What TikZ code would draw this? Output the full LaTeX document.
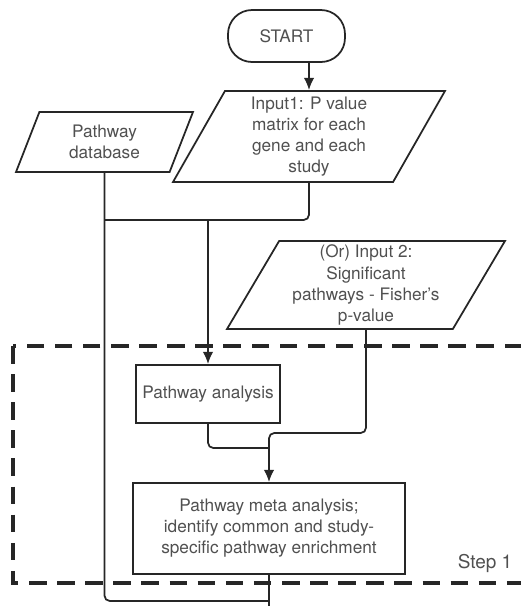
\documentclass[tikz,border=0pt]{standalone}
\usepackage{fontspec}
\setmainfont{TeX Gyre Heros}
\usepackage{xcolor}
\usetikzlibrary{
		arrows.meta,
		shapes.geometric,
		positioning
	}
\definecolor{boxtext}{HTML}{505050}
\definecolor{boxline}{HTML}{262626}
\tikzset{
		>={Latex[length=7pt,width=6pt]},
		every node/.style={text=boxtext, font=\fontsize{9.8}{12}\selectfont},
		startbox/.style={draw=boxline, line width=1pt, rectangle, rounded corners=0.48cm,
			minimum width=2.34cm, minimum height=1.04cm},
		iobox/.style={draw=boxline, line width=1pt, trapezium, trapezium left angle=58,
			trapezium right angle=122, trapezium stretches body, align=center, inner sep=1pt},
		procbox/.style={draw=boxline, line width=1pt, rectangle, align=center},
		link/.style={draw=boxline, line width=1pt, rounded corners=3pt},
		stepframe/.style={draw=boxline, line width=2pt, dash pattern=on 10pt off 6pt}
	}

\begin{document}
\begin{tikzpicture}[x=0.02cm, y=-0.02cm]
        \useasboundingbox (0,0) rectangle (521,606);

        % the dashed frame of step 1
        \draw[stepframe] (13,346) rectangle (522.5,583);
        \node (steplabel) at (485,563) {\fontsize{10.8}{12}\selectfont Step 1};

        % the boxes
        \node[startbox] (start) at (286.5,36) {START};
        \node[iobox, minimum width=5.44cm, minimum height=1.82cm] (input1) at (309,136.5)
            {Input1: P value\\matrix for each\\gene and each\\study};
        \node[iobox, minimum width=3.54cm, minimum height=1.2cm] (db) at (104.5,142)
            {Pathway\\database};
        \node[iobox, minimum width=5.56cm, minimum height=1.76cm] (input2) at (366,285)
            {(Or) Input 2:\\Significant\\pathways - Fisher's\\p-value};
        \node[procbox, minimum width=2.88cm, minimum height=1.16cm] (analysis) at (208,394)
            {Pathway analysis};
        \node[procbox, minimum width=5.44cm, minimum height=1.82cm] (meta) at (269,528.5)
            {Pathway meta analysis;\\identify common and study-\\specific pathway enrichment};

        % points where the lines meet
        \coordinate (join1) at (208,220);
        \coordinate (join2) at (269,433);
        \coordinate (join3) at (269,448);
        \coordinate (exit) at (269,601);
        \coordinate (offpage) at (269,615);

        % draw the lines and arrows
        \draw[link, ->] (input1.north |- start.south) -- (input1.north);
        \draw[link] (input1.south) |- (db.south |- join1);
        \draw[link, ->] (join1) -- (analysis.north);
        \draw[link, ->] (input2.south) |- (join2) -- (meta.north);
        \draw[link] (analysis.south) |- (join3);
        \draw[link] (db.south) |- (exit);
        \draw[link] (meta.south) -- (offpage);

    \end{tikzpicture}
\end{document}
